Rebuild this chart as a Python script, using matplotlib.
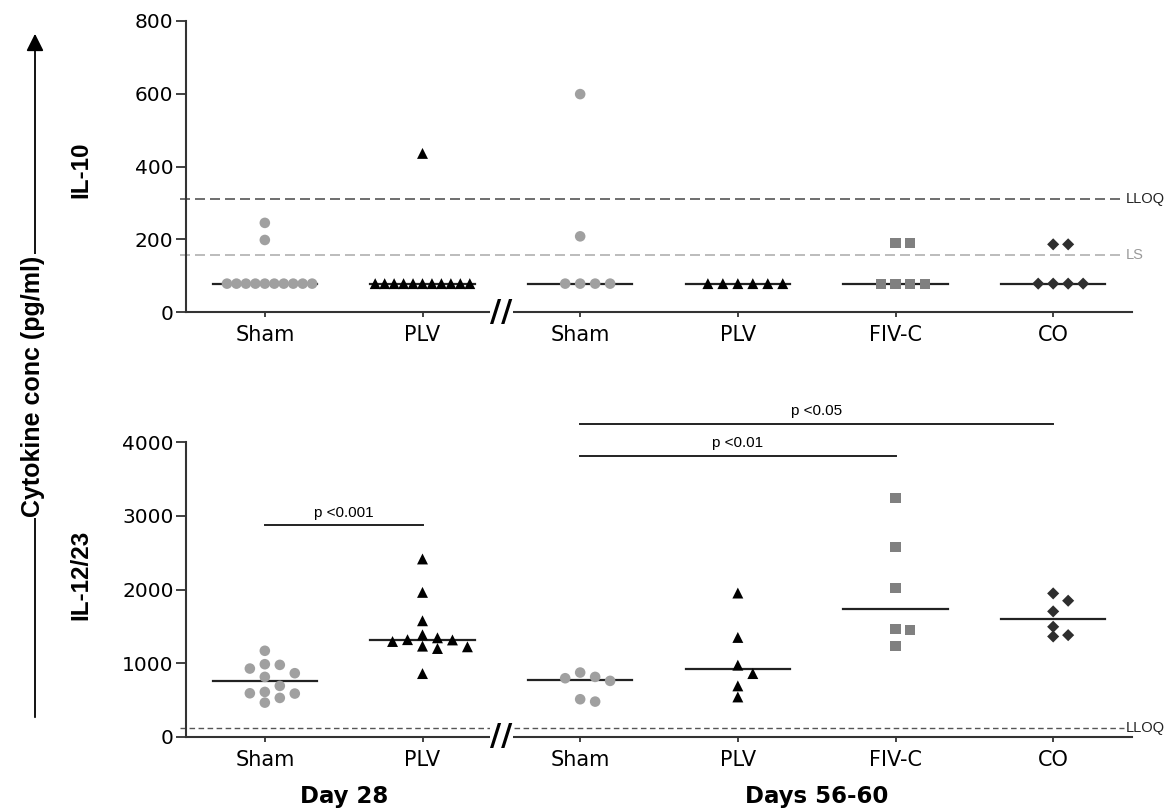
import numpy as np
import matplotlib
matplotlib.use('Agg')
import matplotlib.pyplot as plt

# ---- data ----
groups = ['Sham', 'PLV', 'Sham', 'PLV', 'FIV-C', 'CO']

il10_sham_d28 = [245, 198] + [78] * 10
il10_plv_d28 = [436] + [78] * 11
il10_sham_d56 = [599, 208, 78, 78, 78, 78]
il10_plv_d56 = [78] * 6
il10_fivc = [190, 190, 78, 78, 78, 78]
il10_co = [186, 186, 78, 78, 78, 78]

il12_sham_d28 = [1169, 987, 978, 928, 865, 815, 693, 611, 593, 589, 530, 466]
il12_plv_d28 = [2414, 1961, 1576, 1386, 1345, 1320, 1316, 1295, 1232, 1223, 1200, 860]
il12_sham_d56 = [874, 815, 797, 761, 512, 480]
il12_plv_d56 = [1952, 1350, 974, 860, 693, 543]
il12_fivc = [3243, 2572, 2015, 1463, 1454, 1232]
il12_co = [1947, 1848, 1703, 1495, 1381, 1363]

il10_lloq = 310
il10_ls = 156
il12_lloq = 120

# significance bars: (group i, group j, y, label)
il12_sig = [(0, 1, 2870, 'p <0.001'), (2, 4, 3810, 'p <0.01'), (2, 5, 4250, 'p <0.05')]

# ---- styles ----
styles = [
    dict(marker='o', color='#a0a0a0', s=58),
    dict(marker='^', color='black', s=62),
    dict(marker='o', color='#a0a0a0', s=58),
    dict(marker='^', color='black', s=62),
    dict(marker='s', color='#808080', s=52),
    dict(marker='D', color='#2e2e2e', s=38),
]

W, H = 1175, 810
fig = plt.figure(figsize=(W / 100, H / 100), dpi=100)
TICKFONT = 'DejaVu Sans'
LABFONT = ['Liberation Sans', 'DejaVu Sans']
AXC = '#333333'


def swarm(vals, px_per_unit, step=0.095, diam=9.5, maxhalf=0.3):
    vals = np.asarray(vals, float)
    order = np.argsort(-vals, kind='stable')
    cols = np.zeros(len(vals))
    placed = []
    cand = [0]
    for k in range(1, 20):
        cand += [k, -k]
    for i in order:
        y = vals[i] * px_per_unit
        for k in cand:
            if all(not (pk == k and abs(py - y) < diam) for pk, py in placed):
                break
        placed.append((k, y))
        cols[i] = k
    offs = cols * step
    m = np.abs(offs).max()
    if m > maxhalf:
        offs *= maxhalf / m
    return offs


def panel(rect, data, ylim, yticks, px_per_unit):
    ax = fig.add_axes(rect)
    x0 = np.arange(len(data))
    for i, vals in enumerate(data):
        offs = swarm(vals, px_per_unit)
        med = np.median(vals)
        ax.plot([i - 0.33, i + 0.33], [med, med], color='#222222', lw=1.6, zorder=2)
        ax.scatter(i + offs, vals, edgecolors='none', zorder=3, clip_on=False, **styles[i])
    ax.set_xlim(-0.5, 5.5)
    ax.set_ylim(*ylim)
    ax.set_yticks(yticks)
    ax.set_xticks(x0)
    ax.set_xticklabels(groups)
    for s in ['top', 'right']:
        ax.spines[s].set_visible(False)
    for s in ['left', 'bottom']:
        ax.spines[s].set_color(AXC)
        ax.spines[s].set_linewidth(1.5)
    ax.spines['left'].set_bounds(yticks[0], yticks[-1])
    ax.tick_params(axis='y', direction='out', length=7.5, width=1.3, color=AXC, pad=1.5)
    ax.tick_params(axis='x', direction='out', length=3.5, width=1.3, color=AXC, pad=6)
    for lab in ax.get_yticklabels():
        lab.set_fontfamily(TICKFONT)
        lab.set_fontsize(14.5)
    for lab in ax.get_xticklabels():
        lab.set_fontfamily(TICKFONT)
        lab.set_fontsize(15)
    # axis break
    ax.text(1.5, 0, '//', fontsize=22, fontweight='bold', ha='center', va='center',
            family='DejaVu Sans', transform=ax.get_xaxis_transform(), zorder=5,
            bbox=dict(facecolor='white', edgecolor='none', pad=0.5), clip_on=False)
    return ax


left = 186 / W
width = (1132 - 186) / W
ax1 = panel([left, 1 - 312 / H, width, (312 - 21) / H],
            [il10_sham_d28, il10_plv_d28, il10_sham_d56, il10_plv_d56, il10_fivc, il10_co],
            (0, 800), [0, 200, 400, 600, 800], 291 / 800)
ax2 = panel([left, 1 - 737 / H, width, (737 - 412.5) / H],
            [il12_sham_d28, il12_plv_d28, il12_sham_d56, il12_plv_d56, il12_fivc, il12_co],
            (0, 4400), [0, 1000, 2000, 3000, 4000], 324.5 / 4400)

# detection limits
ax1.plot([-0.54, 5.45], [il10_lloq] * 2, color='#555555', lw=1.2, ls=(0, (6, 3)), zorder=1, clip_on=False)
ax1.plot([-0.54, 5.45], [il10_ls] * 2, color='#b0b0b0', lw=1.2, ls=(0, (6, 3)), zorder=1, clip_on=False)
ax1.text(5.46, il10_lloq, 'LLOQ', fontsize=10.5, color='#222222', va='center', ha='left',
         family=LABFONT, clip_on=False)
ax1.text(5.46, il10_ls, 'LS', fontsize=10.5, color='#999999', va='center', ha='left',
         family=LABFONT, clip_on=False)
ax2.plot([-0.54, 5.45], [il12_lloq] * 2, color='#555555', lw=1.0, ls=(0, (4, 2.5)), zorder=1, clip_on=False)
ax2.text(5.46, il12_lloq, 'LLOQ', fontsize=10.5, color='#222222', va='center', ha='left',
         family=LABFONT, clip_on=False)

# significance bars
for i, j, y, lab in il12_sig:
    ax2.plot([i, j], [y, y], color='#222222', lw=1.4, clip_on=False)
    ax2.annotate(lab, xy=((i + j) / 2, y), xytext=(0, 4), textcoords='offset points',
                 ha='center', va='bottom', fontsize=11, family=LABFONT, annotation_clip=False)

# time point labels
for xc, lab in [(0.5, 'Day 28'), (3.5, 'Days 56-60')]:
    ax2.annotate(lab, xy=(xc, 0), xycoords=('data', 'axes fraction'), xytext=(0, -43),
                 textcoords='offset points', ha='center', va='center', fontsize=16.5,
                 fontweight='bold', family=TICKFONT, annotation_clip=False)

# panel labels
fig.text(81 / W, 1 - 170 / H, 'IL-10', rotation=90, ha='center', va='center',
         fontsize=17.5, fontweight='bold', family=LABFONT)
fig.text(81 / W, 1 - 575 / H, 'IL-12/23', rotation=90, ha='center', va='center',
         fontsize=17.5, fontweight='bold', family=LABFONT)

# big arrow with common y label
fig.add_artist(matplotlib.patches.FancyArrowPatch((35 / W, 1 - 720 / H), (35 / W, 1 - 31 / H),
                                                  transform=fig.transFigure, arrowstyle='-|>',
                                                  mutation_scale=26, lw=1.3, color='black'))
fig.text(33 / W, 1 - 386 / H, 'Cytokine conc (pg/ml)', rotation=90, ha='center', va='center',
         fontsize=18, fontweight='bold', family=LABFONT,
         bbox=dict(facecolor='white', edgecolor='none', pad=1))

fig.savefig('out.png', dpi=100)
